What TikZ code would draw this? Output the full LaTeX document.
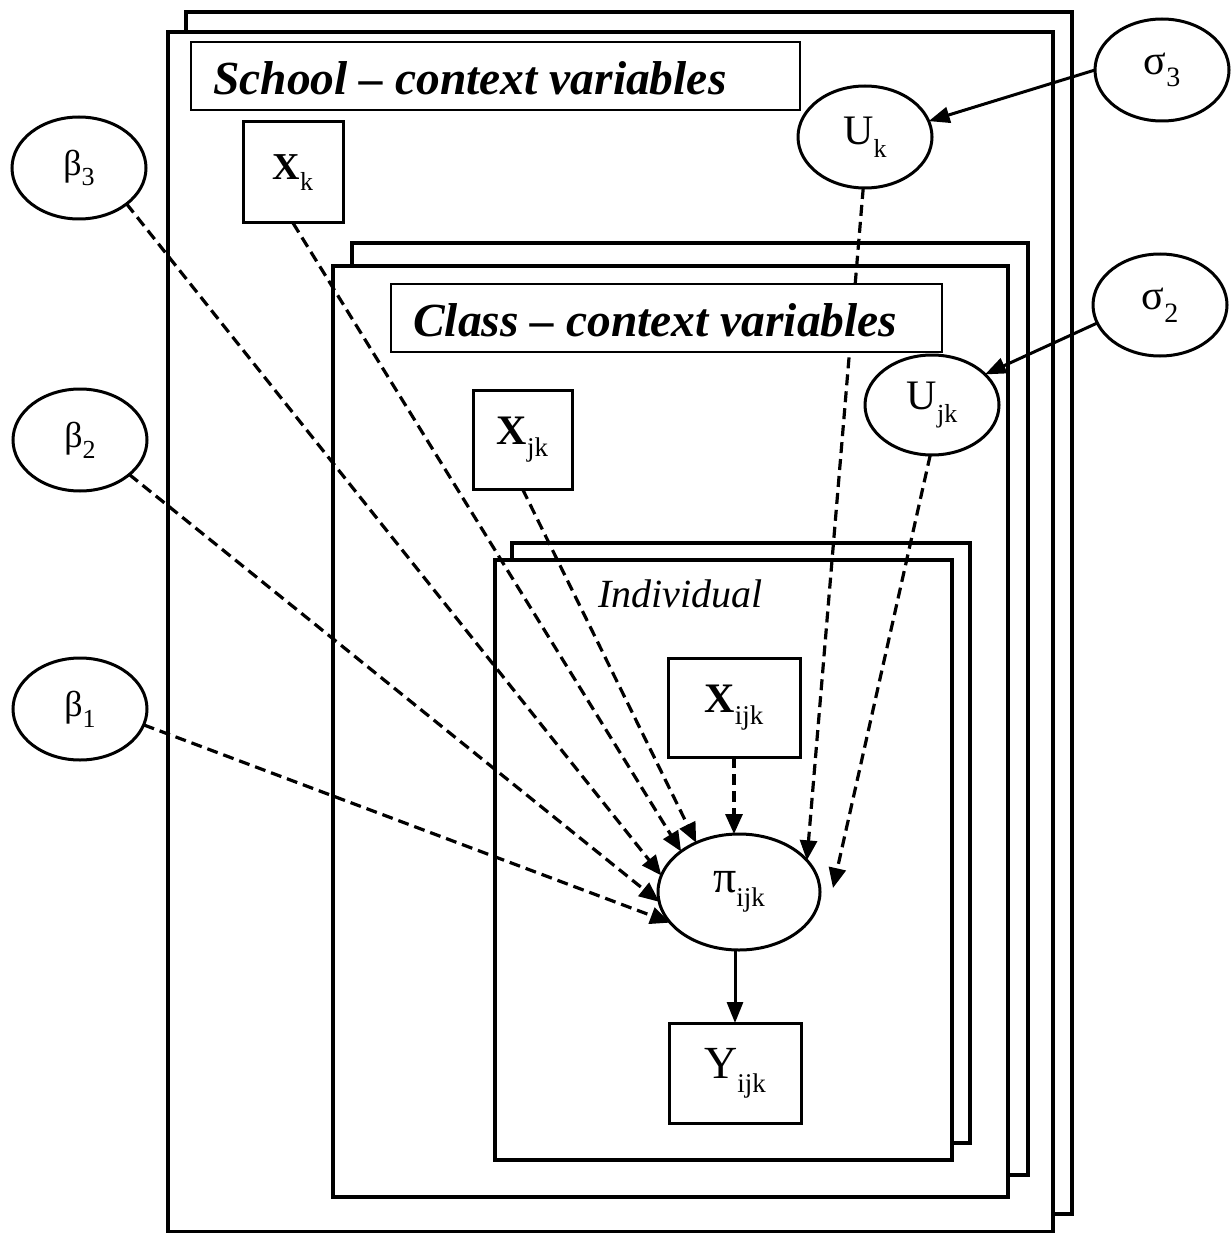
\documentclass[tikz,border=0pt]{standalone}
\usepackage{fontspec}
\setmainfont{Liberation Serif}
\usetikzlibrary{arrows.meta,shapes.geometric}
\newcommand\lbl[4]{\fontsize{#1}{#1}\selectfont #2\raisebox{-0.3em}{\fontsize{#3}{#3}\selectfont\mdseries #4}}
\begin{document}
\begin{tikzpicture}[x=1pt,y=-1pt,
 plate/.style={draw,line width=3.4pt,fill=white},
 var/.style={ellipse,draw,line width=3pt,fill=white,minimum width=134pt,minimum height=102pt,inner sep=0pt,outer sep=0pt},
 obs/.style={rectangle,draw,line width=3pt,fill=white,inner sep=0pt,outer sep=0pt},
 dep/.style={line width=3.2pt,dash pattern=on 11pt off 6pt,-{Triangle[length=20pt,width=17pt]}},
 solidarr/.style={line width=3pt,-{Triangle[length=21pt,width=16pt]}},
 labbox/.style={draw,line width=2.2pt,fill=white},
 title/.style={anchor=base west,inner sep=0pt,font=\bfseries\itshape\fontsize{47.5}{47.5}\selectfont}
]
\useasboundingbox (0,0) rectangle (1231,1233);
% plates
\draw[plate] (186,12) rectangle (1072,1214);
\draw[plate] (168,32) rectangle (1053,1232);
\draw[plate] (352,243) rectangle (1028,1175);
\draw[plate] (333,266) rectangle (1008,1197);
\draw[plate] (512,543) rectangle (970,1143);
\draw[plate] (495,560) rectangle (952,1160);
\node[anchor=base west,inner sep=0pt,font=\itshape\fontsize{40}{40}\selectfont] (indiv) at (598,607) {Individual};
% nodes
\node[var] (b3) at (79,168) {\lbl{36}{β}{26}{3}};
\node[var] (b2) at (80,440) {\lbl{36}{β}{26}{2}};
\node[var] (b1) at (80,709) {\lbl{36}{β}{26}{1}};
\node[var] (s3) at (1162,70) {\lbl{42}{σ}{28}{3}};
\node[var] (s2) at (1160,305) {\lbl{42}{σ}{28}{2}};
\node[var] (uk) at (865,137) {\lbl{42}{U}{26}{k}};
\node[var,minimum height=100pt] (ujk) at (932,405) {\lbl{42}{U}{26}{jk}};
\node[obs,minimum width=100pt,minimum height=101pt] (xk) at (293,172.5) {\bfseries\lbl{38}{X}{26}{k}};
\node[obs,minimum width=99pt,minimum height=99pt] (xjk) at (522.5,439.5) {\bfseries\lbl{42}{X}{27}{jk}};
\node[obs,minimum width=132pt,minimum height=99pt] (xijk) at (734,707.5) {\bfseries\lbl{42}{X}{27}{ijk}};
\node[var,minimum width=162pt,minimum height=116pt] (pi) at (739,892) {\lbl{46}{π}{27}{ijk}};
\node[obs,minimum width=132pt,minimum height=100pt] (yijk) at (735,1073) {\lbl{46}{Y}{27}{ijk}};
\coordinate (ujkend) at (833,888);
% connectors
\draw[dep] (b3.-37) -- (pi.168);
\draw[dep] (xk.south) -- (pi.145);
\draw[dep] (xjk.south) -- (pi.131);
\draw[dep] (b2.-35) -- (pi.187);
\draw[dep] (b1.-14) -- (pi.-156);
\draw[dep] (xijk.south) -- (xijk.south |- pi.north);
\draw[dep] (uk.-92) -- (pi.25);
\draw[dep] (ujk.-92) -- (ujkend);
\draw[solidarr] (s3.180) -- (uk.14);
\draw[solidarr] (s2.-164) -- (ujk.30);
\draw[solidarr] (pi.south -| yijk.north) -- (yijk.north);
% label boxes
\draw[labbox] (191,42) rectangle (800,110);
\node[title] (schooltxt) at (213,95) {School – context variables};
\draw[labbox] (391,284) rectangle (942,352);
\node[title] (classtxt) at (413,336) {Class – context variables};
\end{tikzpicture}
\end{document}
